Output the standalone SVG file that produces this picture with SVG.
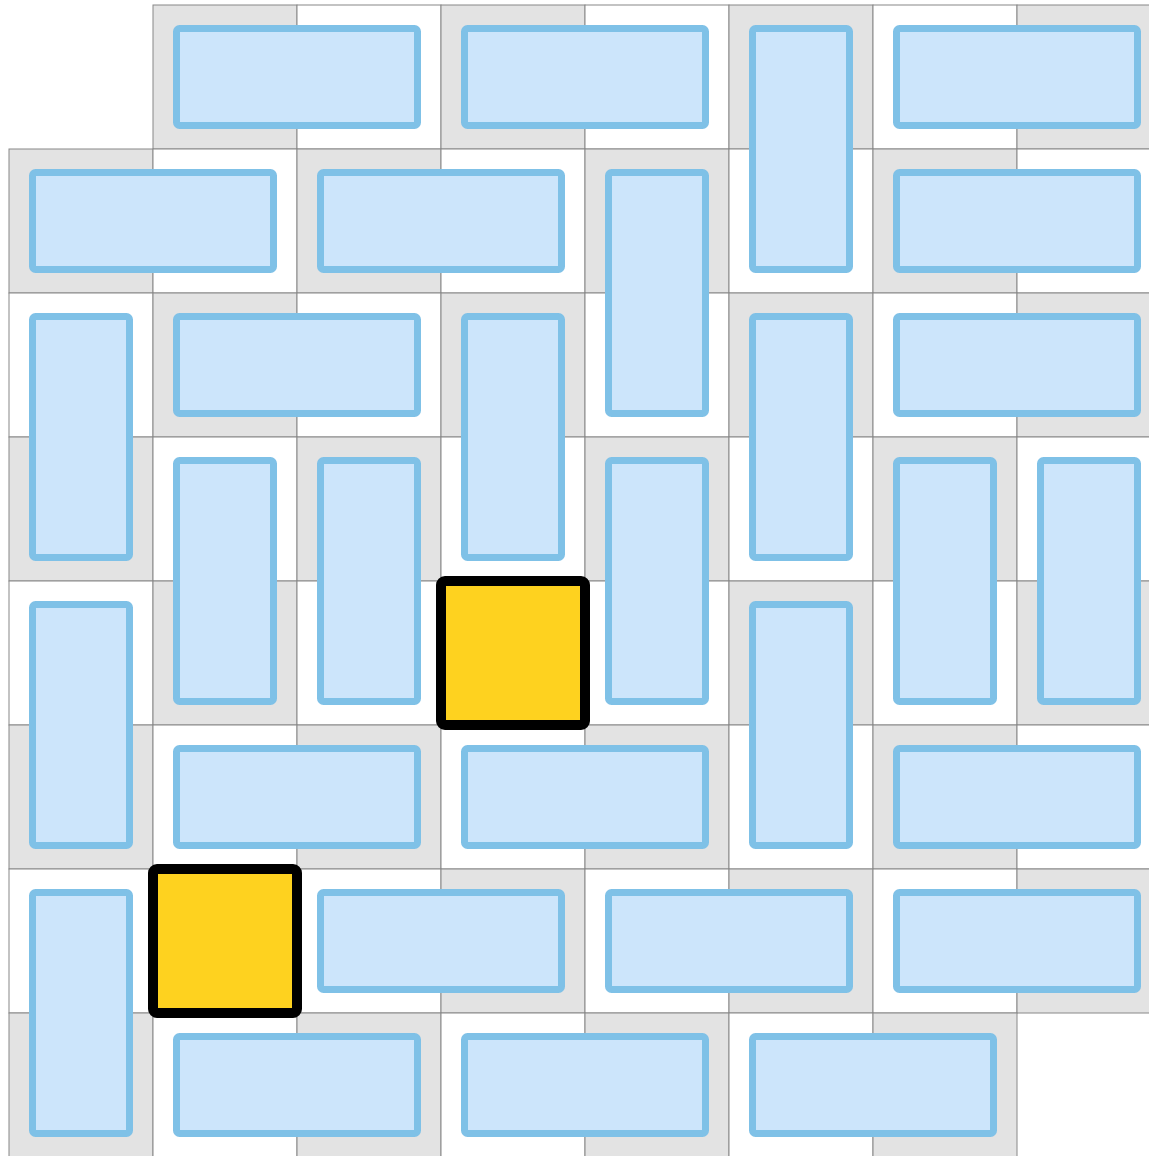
<svg xmlns="http://www.w3.org/2000/svg" width="1149" height="1156" viewBox="0 0 1149 1156">
<style>
.g{fill:#e3e3e3;stroke:#888;stroke-width:1}
.w{fill:#fff;stroke:#888;stroke-width:1}
.d{fill:#cce5fb;stroke:#7fc1e7;stroke-width:7}
.m{fill:#fed21f;stroke:#000;stroke-width:10}
</style>
<rect width="1149" height="1156" fill="#fff"/>
<g id="board">
<!-- row 0 -->
<rect class="g" x="153" y="5" width="144" height="144"/><rect class="w" x="297" y="5" width="144" height="144"/><rect class="g" x="441" y="5" width="144" height="144"/><rect class="w" x="585" y="5" width="144" height="144"/><rect class="g" x="729" y="5" width="144" height="144"/><rect class="w" x="873" y="5" width="144" height="144"/><rect class="g" x="1017" y="5" width="144" height="144"/>
<!-- row 1 -->
<rect class="g" x="9" y="149" width="144" height="144"/><rect class="w" x="153" y="149" width="144" height="144"/><rect class="g" x="297" y="149" width="144" height="144"/><rect class="w" x="441" y="149" width="144" height="144"/><rect class="g" x="585" y="149" width="144" height="144"/><rect class="w" x="729" y="149" width="144" height="144"/><rect class="g" x="873" y="149" width="144" height="144"/><rect class="w" x="1017" y="149" width="144" height="144"/>
<!-- row 2 -->
<rect class="w" x="9" y="293" width="144" height="144"/><rect class="g" x="153" y="293" width="144" height="144"/><rect class="w" x="297" y="293" width="144" height="144"/><rect class="g" x="441" y="293" width="144" height="144"/><rect class="w" x="585" y="293" width="144" height="144"/><rect class="g" x="729" y="293" width="144" height="144"/><rect class="w" x="873" y="293" width="144" height="144"/><rect class="g" x="1017" y="293" width="144" height="144"/>
<!-- row 3 -->
<rect class="g" x="9" y="437" width="144" height="144"/><rect class="w" x="153" y="437" width="144" height="144"/><rect class="g" x="297" y="437" width="144" height="144"/><rect class="w" x="441" y="437" width="144" height="144"/><rect class="g" x="585" y="437" width="144" height="144"/><rect class="w" x="729" y="437" width="144" height="144"/><rect class="g" x="873" y="437" width="144" height="144"/><rect class="w" x="1017" y="437" width="144" height="144"/>
<!-- row 4 -->
<rect class="w" x="9" y="581" width="144" height="144"/><rect class="g" x="153" y="581" width="144" height="144"/><rect class="w" x="297" y="581" width="144" height="144"/><rect class="g" x="441" y="581" width="144" height="144"/><rect class="w" x="585" y="581" width="144" height="144"/><rect class="g" x="729" y="581" width="144" height="144"/><rect class="w" x="873" y="581" width="144" height="144"/><rect class="g" x="1017" y="581" width="144" height="144"/>
<!-- row 5 -->
<rect class="g" x="9" y="725" width="144" height="144"/><rect class="w" x="153" y="725" width="144" height="144"/><rect class="g" x="297" y="725" width="144" height="144"/><rect class="w" x="441" y="725" width="144" height="144"/><rect class="g" x="585" y="725" width="144" height="144"/><rect class="w" x="729" y="725" width="144" height="144"/><rect class="g" x="873" y="725" width="144" height="144"/><rect class="w" x="1017" y="725" width="144" height="144"/>
<!-- row 6 -->
<rect class="w" x="9" y="869" width="144" height="144"/><rect class="g" x="153" y="869" width="144" height="144"/><rect class="w" x="297" y="869" width="144" height="144"/><rect class="g" x="441" y="869" width="144" height="144"/><rect class="w" x="585" y="869" width="144" height="144"/><rect class="g" x="729" y="869" width="144" height="144"/><rect class="w" x="873" y="869" width="144" height="144"/><rect class="g" x="1017" y="869" width="144" height="144"/>
<!-- row 7 -->
<rect class="g" x="9" y="1013" width="144" height="144"/><rect class="w" x="153" y="1013" width="144" height="144"/><rect class="g" x="297" y="1013" width="144" height="144"/><rect class="w" x="441" y="1013" width="144" height="144"/><rect class="g" x="585" y="1013" width="144" height="144"/><rect class="w" x="729" y="1013" width="144" height="144"/><rect class="g" x="873" y="1013" width="144" height="144"/>
</g>
<g id="dominoes">
<!-- horizontal: width 241, height 97 -->
<rect id="h01" class="d" x="176.5" y="28.5" width="241" height="97" rx="3"/>
<rect id="h03" class="d" x="464.5" y="28.5" width="241" height="97" rx="3"/>
<rect id="h06" class="d" x="896.5" y="28.5" width="241" height="97" rx="3"/>
<rect id="h10" class="d" x="32.5" y="172.5" width="241" height="97" rx="3"/>
<rect id="h12" class="d" x="320.5" y="172.5" width="241" height="97" rx="3"/>
<rect id="h16" class="d" x="896.5" y="172.5" width="241" height="97" rx="3"/>
<rect id="h21" class="d" x="176.5" y="316.5" width="241" height="97" rx="3"/>
<rect id="h26" class="d" x="896.5" y="316.5" width="241" height="97" rx="3"/>
<rect id="h51" class="d" x="176.5" y="748.5" width="241" height="97" rx="3"/>
<rect id="h53" class="d" x="464.5" y="748.5" width="241" height="97" rx="3"/>
<rect id="h56" class="d" x="896.5" y="748.5" width="241" height="97" rx="3"/>
<rect id="h62" class="d" x="320.5" y="892.5" width="241" height="97" rx="3"/>
<rect id="h64" class="d" x="608.5" y="892.5" width="241" height="97" rx="3"/>
<rect id="h66" class="d" x="896.5" y="892.5" width="241" height="97" rx="3"/>
<rect id="h71" class="d" x="176.5" y="1036.5" width="241" height="97" rx="3"/>
<rect id="h73" class="d" x="464.5" y="1036.5" width="241" height="97" rx="3"/>
<rect id="h75" class="d" x="752.5" y="1036.5" width="241" height="97" rx="3"/>
<!-- vertical: width 97, height 241 -->
<rect id="v05" class="d" x="752.5" y="28.5" width="97" height="241" rx="3"/>
<rect id="v14" class="d" x="608.5" y="172.5" width="97" height="241" rx="3"/>
<rect id="v20" class="d" x="32.5" y="316.5" width="97" height="241" rx="3"/>
<rect id="v23" class="d" x="464.5" y="316.5" width="97" height="241" rx="3"/>
<rect id="v25" class="d" x="752.5" y="316.5" width="97" height="241" rx="3"/>
<rect id="v31" class="d" x="176.5" y="460.5" width="97" height="241" rx="3"/>
<rect id="v32" class="d" x="320.5" y="460.5" width="97" height="241" rx="3"/>
<rect id="v34" class="d" x="608.5" y="460.5" width="97" height="241" rx="3"/>
<rect id="v36" class="d" x="896.5" y="460.5" width="97" height="241" rx="3"/>
<rect id="v37" class="d" x="1040.5" y="460.5" width="97" height="241" rx="3"/>
<rect id="v40" class="d" x="32.5" y="604.5" width="97" height="241" rx="3"/>
<rect id="v45" class="d" x="752.5" y="604.5" width="97" height="241" rx="3"/>
<rect id="v60" class="d" x="32.5" y="892.5" width="97" height="241" rx="3"/>
</g>
<g id="monominoes">
<rect id="m43" class="m" x="441" y="581" width="144" height="144" rx="4"/>
<rect id="m61" class="m" x="153" y="869" width="144" height="144" rx="4"/>
</g>
<g id="connectors"/>
</svg>
